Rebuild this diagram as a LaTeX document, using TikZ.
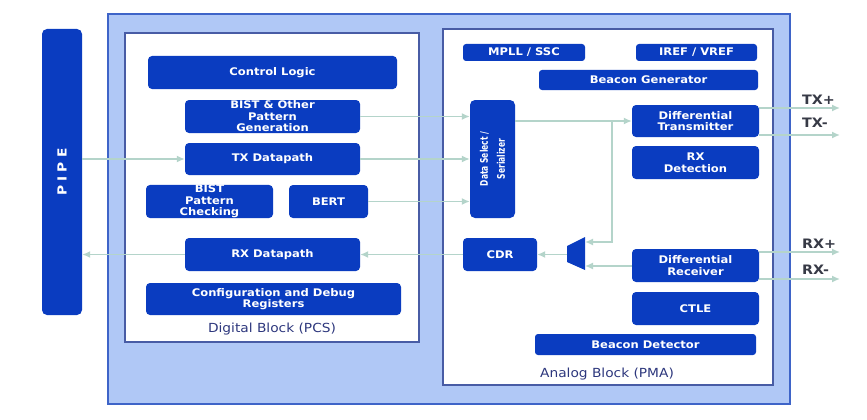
\documentclass[tikz,border=0pt]{standalone}
\usepackage{fontspec}
\setmainfont{DejaVu Sans}[FakeStretch=1.1]
\newfontfamily\narrowfont{DejaVu Sans}[FakeStretch=0.72]
\usetikzlibrary{arrows.meta}
\definecolor{blkc}{RGB}{10,60,192}
\definecolor{outerf}{RGB}{176,200,246}
\definecolor{outerc}{RGB}{62,100,200}
\definecolor{innerc}{RGB}{72,92,165}
\definecolor{arrc}{RGB}{180,212,202}
\definecolor{capc}{RGB}{45,55,125}
\definecolor{pinc}{RGB}{55,58,70}
\begin{document}
\begin{tikzpicture}[x=1pt,y=-1pt,
  blk/.style={fill=blkc, rounded corners=4pt, text=white,
    font=\bfseries\fontsize{10.5}{11.5}\selectfont, align=center, inner sep=0pt},
  conn/.style={draw=arrc, line width=1.5pt, -{Latex[length=8pt,width=7pt]}},
  area/.style={fill=white, draw=innerc, line width=1.2pt, inner sep=0pt},
  captext/.style={text=capc, font=\fontsize{12.5}{13}\selectfont},
  pinlab/.style={text=pinc, font=\bfseries\fontsize{13}{13}\selectfont, anchor=west, inner sep=0pt}
]
\useasboundingbox (0,0) rectangle (867,420);
% outer block
\node[draw=outerc, fill=outerf, line width=1.8pt, inner sep=0pt,
      minimum width=682pt, minimum height=390pt] (outer) at (449,209) {};
\node[area, minimum width=294pt, minimum height=309pt] (digital) at (272,187.5) {};
\node[area, minimum width=330pt, minimum height=356pt] (analog) at (608,207) {};
\node[captext] (dlab) at (272,329) {Digital Block (PCS)};
\node[captext] (alab) at (607,374) {Analog Block (PMA)};

% PIPE
\node[blk, rounded corners=5pt, minimum width=40pt, minimum height=286pt] (pipe) at (62,172) {};
\node[rotate=90, text=white, font=\bfseries\fontsize{12.5}{12.5}\selectfont] (pipetxt) at (pipe.center) {P\,\,I\,\,P\,\,E};

% digital blocks
\node[blk, minimum width=249pt, minimum height=33pt] (ctrl) at (272.5,72.5) {Control Logic};
\node[blk, minimum width=175pt, minimum height=33pt] (bistgen) at (272.5,116.5) {BIST \& Other\\Pattern\\Generation};
\node[blk, minimum width=175pt, minimum height=32pt] (txdp) at (272.5,159) {TX Datapath};
\node[blk, minimum width=127pt, minimum height=33pt] (bistchk) at (209.5,201.5) {BIST\\Pattern\\Checking};
\node[blk, minimum width=79pt, minimum height=33pt] (bert) at (328.5,201.5) {BERT};
\node[blk, minimum width=175pt, minimum height=33pt] (rxdp) at (272.5,254.5) {RX Datapath};
\node[blk, minimum width=255pt, minimum height=32pt] (cfg) at (273.5,299) {Configuration and Debug\\Registers};

% analog blocks
\node[blk, rounded corners=3pt, minimum width=122pt, minimum height=17pt] (mpll) at (524,52.5) {MPLL / SSC};
\node[blk, rounded corners=3pt, minimum width=121pt, minimum height=17pt] (iref) at (696.5,52.5) {IREF / VREF};
\node[blk, rounded corners=3pt, minimum width=219pt, minimum height=20pt] (beacgen) at (648.5,80) {Beacon Generator};
\node[blk, rounded corners=5pt, minimum width=45pt, minimum height=118pt] (dsel) at (492.5,159) {};
\node[rotate=90, text=white, align=center, inner sep=0pt,
      font=\narrowfont\bfseries\fontsize{10.5}{17}\selectfont] (dseltxt) at (dsel.center) {Data Select /\\Serializer};
\node[blk, minimum width=127pt, minimum height=32pt] (dtx) at (695.5,121) {Differential\\Transmitter};
\node[blk, minimum width=127pt, minimum height=33pt] (rxdet) at (695.5,162.5) {RX\\Detection};
\node[blk, minimum width=74pt, minimum height=33pt] (cdr) at (500,254.5) {CDR};
\node[blk, minimum width=127pt, minimum height=33pt] (drx) at (695.5,265.5) {Differential\\Receiver};
\node[blk, minimum width=127pt, minimum height=33pt] (ctle) at (695.5,308.5) {CTLE};
\node[blk, rounded corners=3pt, minimum width=221pt, minimum height=21pt] (beacdet) at (645.5,344.5) {Beacon Detector};

% mux
\fill[blkc] (567,246) -- (585,237) -- (585,270) -- (567,262) -- cycle;
\coordinate (muxtop) at (585,242);
\coordinate (muxbot) at (585,266);
\coordinate (muxout) at (567,254.5);
\coordinate (br) at (612,121);

% pins
\coordinate (txp) at (840,108);
\coordinate (txm) at (840,135);
\coordinate (rxp) at (840,252);
\coordinate (rxm) at (840,279);
\node[pinlab] (txplab) at (802,100) {TX+};
\node[pinlab] (txmlab) at (802,123) {TX-};
\node[pinlab] (rxplab) at (802,244) {RX+};
\node[pinlab] (rxmlab) at (802,270) {RX-};

% connectors
\draw[conn] (pipe.east |- txdp.west) -- (txdp.west);
\draw[conn] (bistgen.east) -- (bistgen.east -| dsel.west);
\draw[conn] (txdp.east) -- (txdp.east -| dsel.west);
\draw[conn] (bert.east) -- (bert.east -| dsel.west);
\draw[conn] (dsel.east |- dtx.west) -- (dtx.west);
\draw[conn] (br) |- (muxtop);
\draw[conn] (drx.west |- muxbot) -- (muxbot);
\draw[conn] (muxout) -- (muxout -| cdr.east);
\draw[conn] (cdr.west) -- (rxdp.east);
\draw[conn] (rxdp.west) -- (rxdp.west -| pipe.east);
\draw[conn] (dtx.east |- txp) -- (txp);
\draw[conn] (dtx.east |- txm) -- (txm);
\draw[conn] (drx.east |- rxp) -- (rxp);
\draw[conn] (drx.east |- rxm) -- (rxm);
\end{tikzpicture}
\end{document}
